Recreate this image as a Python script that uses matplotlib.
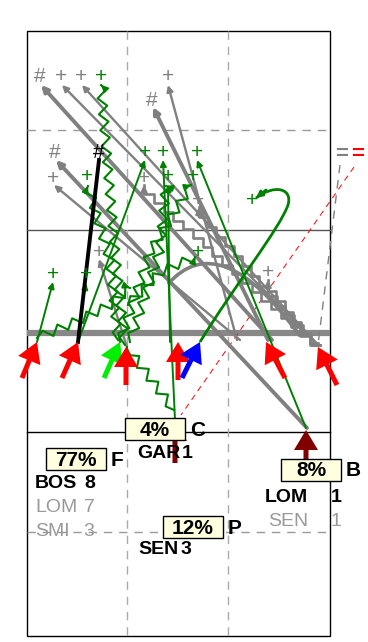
import numpy as np
import matplotlib.pyplot as plt
from matplotlib.patches import Rectangle, PathPatch
from matplotlib.path import Path

plt.rcParams['font.family'] = ['Liberation Sans', 'DejaVu Sans']

# sketch drawn in pixel units (x right, y down)
frame = (27, 31, 330, 636)
solid_y = [230, 432]
solid_col = ['#555555', 'black']
dashed_y = [130, 532]
dashed_x = [127, 228]
board_y = 333

# tracks: start -> marker (arrowhead on the marker end)
gray_thick = [((272, 340), (41, 85)), ((307, 428), (56, 160)), ((268, 340), (153, 107))]
gray_thin = [((318, 345), (62, 85)), ((318, 345), (82, 85)), ((237, 340), (168, 85)),
             ((240, 340), (54, 185)), ((127, 347), (99, 259))]
gray_steps = [((320, 345), (144, 185)), ((320, 345), (199, 207)), ((318, 343), (268, 280))]
gray_arc = [(300, 336), (220, 225), (168, 284)]
green_straight = [((37, 342), (53, 282)), ((78, 342), (145, 160)), ((175, 420), (163, 160)),
                  ((306, 428), (197, 160)), ((170, 342), (168, 185)), ((84, 295), (86, 283))]
green_wavy = [
    [(125, 345), (116, 262), (108, 170), (101, 85)],
    [(174, 410), (150, 378), (127, 347)],
    [(37, 338), (75, 322), (110, 305), (130, 288)],
    [(120, 342), (150, 252), (191, 185)],
    [(130, 342), (160, 250), (166, 186)],
    [(128, 305), (160, 272), (195, 257)],
    [(118, 340), (110, 260), (88, 186)],
]
green_loop = [(200, 342), (235, 285), (280, 228), (288, 205), (293, 188), (274, 184), (256, 198)]
black_track = ((78, 342), (99, 160))

marks = ['#', '+', '+', '+', '+', '#', '#', '#', '+', '+', '+', '+', '+', '+', '+',
         '+', '+', '+', '+', '+', '+', '+', '+']
mark_x = [40, 61, 81, 101, 168, 152, 55, 99, 145, 163, 197, 168, 193, 87, 144,
          53, 198, 252, 53, 86, 99, 198, 268]
mark_y = [77, 77, 77, 77, 77, 100, 153, 153, 153, 153, 153, 177, 177, 177, 178,
          178, 200, 200, 275, 275, 252, 252, 273]
mark_col = ['gray', 'gray', 'gray', 'green', 'gray', 'gray', 'gray', 'black', 'green', 'green', 'green',
            'green', 'green', 'green', 'gray', 'gray', 'gray', 'green', 'green', 'green', 'gray',
            'green', 'gray']

# big arrows (tail -> tip)
big_tail = [(22, 378), (62, 378), (104, 378), (126, 385), (178, 380), (182, 378),
            (285, 378), (337, 385), (306, 466), (175, 463)]
big_tip = [(37, 342), (78, 342), (120, 342), (126, 347), (178, 342), (200, 342),
           (266, 342), (318, 347), (306, 430), (175, 421)]
big_col = ['red', 'red', '#00ee00', 'red', 'red', 'blue', 'red', 'red', '#800000', '#800000']

pct_text = ['4%', '77%', '12%', '8%']
pct_xy = [(155, 429), (76, 459), (193, 527), (311, 470)]
pct_letter = ['C', 'F', 'P', 'B']

names = ['GAR', 'BOS', 'LOM', 'SMI', 'SEN', 'LOM', 'SEN']
nums = ['1', '8', '7', '3', '3', '1', '1']
name_x = [137, 35, 35, 35, 138, 265, 268]
num_x = [182, 84, 84, 83, 181, 331, 331]
name_y = [453, 483, 507, 531, 550, 498, 522]
name_bold = [True, True, False, False, True, True, False]


def zigzag(pts, amp=4.5, step=8):
    pts = np.asarray(pts, float)
    seg = np.diff(pts, axis=0)
    L = np.hypot(seg[:, 0], seg[:, 1])
    cum = np.r_[0, np.cumsum(L)]
    s = np.arange(0, cum[-1], step)
    x = np.interp(s, cum, pts[:, 0])
    y = np.interp(s, cum, pts[:, 1])
    i = np.clip(np.searchsorted(cum, s, side='right') - 1, 0, len(seg) - 1)
    n = np.c_[-seg[i, 1], seg[i, 0]] / L[i][:, None]
    sign = np.where(np.arange(len(s)) % 2 == 0, 1.0, -1.0)
    sign[0] = 0
    out = np.c_[x, y] + n * (amp * sign)[:, None]
    return np.vstack([out, pts[-1]])


def stairs(p0, p1, step=9):
    n = max(int(np.hypot(p1[0] - p0[0], p1[1] - p0[1]) / (step * 1.4)), 1)
    dx = (p1[0] - p0[0]) / n
    dy = (p1[1] - p0[1]) / n
    xs, ys = [p0[0]], [p0[1]]
    for k in range(n):
        xs += [xs[-1] + dx, xs[-1] + dx]
        ys += [ys[-1], ys[-1] + dy]
    return xs, ys


def head(ax, a, b, col, lw):
    ax.annotate('', xy=b, xytext=a,
                arrowprops=dict(arrowstyle='-|>', color=col, lw=lw, mutation_scale=9,
                                shrinkA=0, shrinkB=0))


fig = plt.figure(figsize=(3.68, 6.42), dpi=100)
ax = fig.add_axes([0, 0, 1, 1])
ax.set_xlim(0, 368)
ax.set_ylim(642, 0)
ax.axis('off')

x0, y0, x1, y1 = frame
ax.add_patch(Rectangle((x0, y0), x1 - x0, y1 - y0, fill=False, ec='black', lw=1, zorder=1))
for y, c in zip(solid_y, solid_col):
    ax.plot([x0, x1], [y, y], color=c, lw=1, zorder=1)
for y in dashed_y:
    ax.plot([x0, x1], [y, y], color='#999999', lw=1, ls=(0, (6, 5)), zorder=1)
for x in dashed_x:
    ax.plot([x, x], [y0, y1], color='#aaaaaa', lw=1, ls=(0, (6, 5)), zorder=1)
ax.plot([x0, x1], [board_y, board_y], color='#888888', lw=4.5, zorder=2, solid_capstyle='butt')

# right-side reference lines
ax.text(342, 155, '=', color='gray', fontsize=16, ha='center', va='center', fontweight='bold')
ax.text(358, 155, '=', color='red', fontsize=16, ha='center', va='center', fontweight='bold')
ax.plot([340, 318], [165, 345], color='gray', lw=1, ls=(0, (6, 5)), zorder=2)
ax.plot([354, 181], [167, 415], color='red', lw=0.7, ls=(0, (6, 5)), zorder=2)

for a, b in gray_thick:
    head(ax, a, b, 'gray', 2.8)
for a, b in gray_thin:
    head(ax, a, b, 'gray', 1.7)
for a, b in gray_steps:
    xs, ys = stairs(a, b)
    ax.plot(xs, ys, color='gray', lw=1.9, zorder=2)
    head(ax, (xs[-2], ys[-2]), b, 'gray', 1.9)
arc = Path(gray_arc, [Path.MOVETO, Path.CURVE3, Path.CURVE3])
ax.add_patch(PathPatch(arc, fill=False, ec='gray', lw=2.6, zorder=2))

for a, b in green_straight:
    head(ax, a, b, 'green', 1.4)
for pts in green_wavy:
    zz = zigzag(pts)
    ax.plot(zz[:, 0], zz[:, 1], color='green', lw=1.5, zorder=3)
    head(ax, zz[-2], zz[-1], 'green', 1.5)
loop = Path(green_loop, [Path.MOVETO] + [Path.CURVE4] * 6)
ax.add_patch(PathPatch(loop, fill=False, ec='green', lw=2, zorder=3))
head(ax, (266, 190), green_loop[-1], 'green', 2)
ax.plot(*zip(*black_track), color='black', lw=2.8, zorder=3)

for m, x, y, c in zip(marks, mark_x, mark_y, mark_col):
    ax.text(x, y, m, color=c, fontsize=15, ha='center', va='center', zorder=4)

for (ta, tb), (pa, pb), c in zip(big_tail, big_tip, big_col):
    ax.arrow(ta, tb, pa - ta, pb - tb, width=5, head_width=24, head_length=20,
             length_includes_head=True, fc=c, ec=c, lw=0, zorder=5)

for t, (x, y), l in zip(pct_text, pct_xy, pct_letter):
    ax.add_patch(Rectangle((x - 30, y - 11), 60, 22, fc='#ffffe0', ec='black', lw=1, zorder=6))
    ax.text(x, y + 1, t, fontsize=15, fontweight='bold', ha='center', va='center', zorder=7)
    ax.text(x + 35, y + 1, l, fontsize=15, fontweight='bold', ha='left', va='center', zorder=7)

for n, v, nx, vx, y, b in zip(names, nums, name_x, num_x, name_y, name_bold):
    col = 'black' if b else '#999999'
    w = 'bold' if b else 'normal'
    ax.text(nx, y, n, fontsize=14, fontweight=w, color=col, ha='left', va='center', zorder=7)
    ax.text(vx, y, v, fontsize=14, fontweight=w, color=col, ha='left', va='center', zorder=7)

fig.savefig('out.png', dpi=100)
